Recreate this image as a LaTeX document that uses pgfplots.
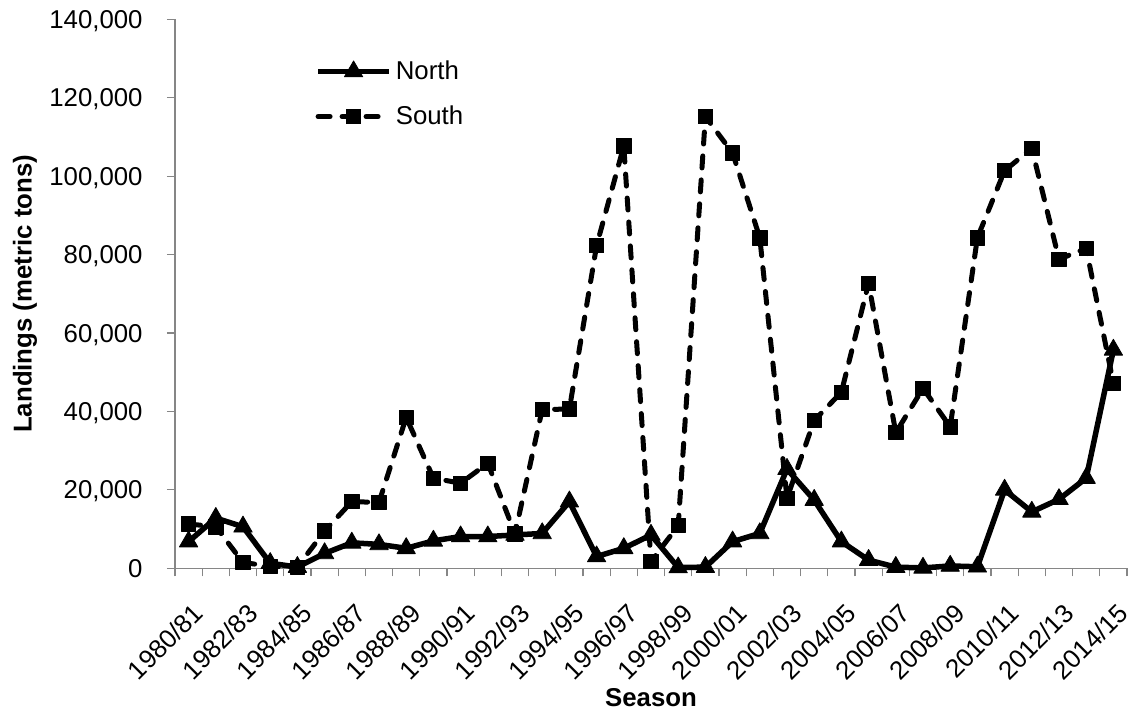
\documentclass[border=0pt]{standalone}
\usepackage{fontspec}
\setmainfont{Liberation Sans}
\usepackage{pgfplots}
\pgfplotsset{compat=1.18}
\definecolor{axisgray}{RGB}{134,134,134}

% landings per season, 1980/81 .. 2014/15 (index 0..34)
\pgfplotstableread{
idx north south
0  6800  11300
1  12800 10600
2  10600 1500
3  1300  500
4  300   300
5  3800  9500
6  6500  17000
7  6100  16800
8  5100  38500
9  7000  23000
10 8100  21700
11 8100  26800
12 8500  8800
13 8900  40500
14 17000 40600
15 3000  82300
16 5100  107700
17 8500  1700
18 200   10900
19 300   115200
20 6800  105900
21 8900  84300
22 25300 17900
23 17400 37700
24 6800  44900
25 2100  72700
26 300   34600
27 100   45900
28 600   36100
29 400   84300
30 20000 101400
31 14400 107100
32 17600 78800
33 23000 81600
34 55700 47200
}\landings

\newcommand{\lblfont}{\fontsize{12.9}{15}\selectfont}

\begin{document}
\begin{tikzpicture}
\begin{axis}[
    at={(0,0)}, anchor=south west,
    scale only axis,
    width=476pt, height=274.5pt,
    xmin=-0.5, xmax=34.5,
    ymin=0, ymax=140000,
    clip=false,
    axis x line*=bottom, axis y line*=left,
    axis line style={axisgray, line width=0.6pt},
    tick style={axisgray, line width=0.6pt},
    tick align=outside,
    major tick length=4pt, minor tick length=4pt,
    xtick={0,2,...,34},
    xticklabels={1980/81,1982/83,1984/85,1986/87,1988/89,1990/91,1992/93,1994/95,1996/97,1998/99,2000/01,2002/03,2004/05,2006/07,2008/09,2010/11,2012/13,2014/15},
    major x tick style={draw=none},
    minor xtick={-0.5,0.5,...,34.5},
    ytick={0,20000,...,140000},
    scaled y ticks=false,
    /pgf/number format/fixed,
    /pgf/number format/1000 sep={,},
    /pgf/number format/assume math mode=true,
    xticklabel style={font=\lblfont, inner sep=0pt, xshift=1.5pt, yshift=-12.5pt, rotate=45, anchor=north east},
    yticklabel style={font=\lblfont, inner sep=0pt, text depth=0pt, anchor=east, xshift=-12pt},
    xlabel={Season},
    ylabel={Landings (metric tons)},
    xlabel style={font=\lblfont\bfseries, at={(axis description cs:0.5,0)}, anchor=center, yshift=-64.5pt},
    ylabel style={font=\lblfont\bfseries, at={(axis description cs:-0.1576,0.5)}, anchor=center, rotate=0},
    legend style={at={(axis description cs:0.147,1)}, anchor=north west, yshift=-18.5pt,
        draw=none, fill=none, inner sep=0pt, row sep=7.7pt, font=\lblfont,
        cells={anchor=west}},
    legend image code/.code={\draw[mark repeat=2, mark phase=2] plot coordinates {(0pt,0pt)(17.75pt,0pt)(35.5pt,0pt)};},
]
\addplot[black, line width=2.75pt, line join=round, mark=triangle*, mark size=5.3pt,
    mark options={solid, line width=0.4pt}] table[x=idx, y=north] {\landings};
\addlegendentry{North}
\addplot[black, line width=2.5pt, line cap=round, line join=round, dash pattern=on 6pt off 6pt,
    mark=square*, mark size=3.6pt, mark options={solid, line width=0.4pt}] table[x=idx, y=south] {\landings};
\addlegendentry{South}
\end{axis}
\pgfresetboundingbox
\path[use as bounding box] (-87.5pt,-72.35pt) rectangle (477.5pt,284.15pt);
\end{tikzpicture}
\end{document}
